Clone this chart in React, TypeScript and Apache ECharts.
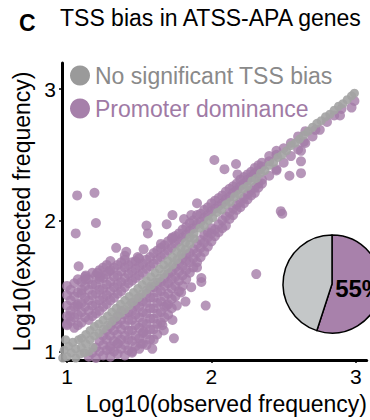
import React, { useEffect, useRef } from "react";
import * as echarts from "echarts";

const titleLetter = "C";
const titleText = "TSS bias in ATSS-APA genes";
const xAxisTitle = "Log10(observed frequency)";
const yAxisTitle = "Log10(expected frequency)";
const tickValues = [1, 2, 3];
const seriesNames = ["No significant TSS bias", "Promoter dominance"];
const pieShares = [55, 45]; // promoter dominance, no significant bias

// Grey points (no significant TSS bias), hugging the diagonal
const noBiasPoints: [number, number][] = [
  [0.97, 0.95], [0.98, 1.01], [1.0, 0.96], [1.01, 1.04], [1.03, 0.99], [1.04, 1.07],
  [1.06, 0.95], [1.06, 1.02], [1.08, 1.09], [1.09, 0.98], [0.99, 1.09], [1.12, 0.99],
  [1.15, 1.0], [1.18, 1.03],
  [1.1, 1.03], [1.1, 1.1], [1.13, 1.06], [1.13, 1.13], [1.16, 1.09], [1.16, 1.16],
  [1.19, 1.12], [1.19, 1.19], [1.22, 1.14], [1.22, 1.21], [1.25, 1.17], [1.25, 1.24],
  [1.28, 1.2], [1.28, 1.27], [1.31, 1.23], [1.31, 1.3], [1.34, 1.26], [1.34, 1.33],
  [1.37, 1.29], [1.37, 1.36], [1.4, 1.32], [1.4, 1.39], [1.43, 1.35], [1.43, 1.42],
  [1.46, 1.38], [1.46, 1.45], [1.49, 1.41], [1.49, 1.48], [1.52, 1.44], [1.52, 1.51],
  [1.55, 1.47], [1.55, 1.54], [1.58, 1.5], [1.58, 1.57], [1.61, 1.53], [1.61, 1.6],
  [1.64, 1.56], [1.64, 1.63], [1.67, 1.59], [1.67, 1.66], [1.7, 1.63], [1.7, 1.69],
  [1.73, 1.66], [1.73, 1.72], [1.76, 1.7], [1.76, 1.76], [1.79, 1.74], [1.79, 1.79],
  [1.82, 1.78], [1.82, 1.83], [1.85, 1.82], [1.85, 1.87], [1.88, 1.86], [1.88, 1.9],
  [1.92, 1.94], [1.95, 1.96],
  [1.98, 2.0], [2.01, 2.02], [2.04, 2.06], [2.07, 2.08], [2.1, 2.12], [2.13, 2.14],
  [2.16, 2.18], [2.19, 2.2], [2.22, 2.24], [2.25, 2.26], [2.28, 2.3], [2.31, 2.32],
  [2.34, 2.36], [2.37, 2.38], [2.4, 2.42], [2.43, 2.44], [2.46, 2.48], [2.49, 2.5],
  [2.52, 2.53], [2.55, 2.57], [2.58, 2.59], [2.61, 2.62], [2.64, 2.65], [2.67, 2.68],
  [2.7, 2.71], [2.73, 2.74], [2.76, 2.76], [2.79, 2.79], [2.82, 2.81], [2.85, 2.84],
  [2.88, 2.87], [2.91, 2.89], [2.94, 2.92], [2.97, 2.95], [2.99, 2.97],
];

// Purple points (promoter dominance): scattered outliers
const promoterOutliers: [number, number][] = [
  [1.07, 2.19], [1.19, 2.21], [1.2, 1.98], [1.06, 1.9], [1.08, 1.65], [1.55, 1.96],
  [1.56, 1.9], [1.69, 1.97], [1.73, 2.04], [1.34, 1.79], [1.41, 1.76], [1.4, 1.73],
  [1.53, 1.78], [1.49, 1.72], [1.65, 1.82], [1.73, 1.87], [1.9, 2.13], [1.81, 2.01],
  [1.86, 2.04], [2.02, 2.46], [2.09, 2.39], [2.17, 2.43], [2.18, 2.35], [2.3, 2.35],
  [2.45, 2.38], [2.54, 2.34], [2.62, 2.36], [2.62, 2.45], [2.48, 2.07], [2.49, 2.05],
  [2.31, 1.59], [1.96, 1.35], [1.82, 1.38], [1.76, 1.35], [1.73, 1.24], [1.67, 1.16],
  [1.74, 1.1], [1.59, 1.02], [1.45, 0.99], [1.66, 1.2], [1.53, 1.15], [1.51, 1.06],
  [1.35, 1.06], [1.3, 1.02], [1.02, 1.27], [1.0, 1.21], [1.07, 1.35], [1.1, 1.47],
  [1.23, 1.57], [1.93, 1.56], [1.86, 1.49], [1.9, 1.64], [1.79, 1.45], [1.69, 1.35],
  [1.93, 1.53], [2.89, 2.8], [2.97, 2.86], [2.99, 2.91], [2.72, 2.69], [2.64, 2.6],
  [2.62, 2.53], [1.13, 1.58], [1.21, 1.6], [1.29, 1.61], [1.13, 1.55],
];

// Purple points (promoter dominance): dense band around the diagonal
const promoterCluster: [number, number][] = [
  [1.0, 1.2], [1.0, 1.27], [1.0, 1.35], [1.0, 1.43], [1.0, 1.5],
  [1.025, 1.23], [1.025, 1.31], [1.025, 1.39], [1.025, 1.47],
  [1.05, 1.18], [1.05, 1.26], [1.05, 1.34], [1.05, 1.42], [1.05, 1.52],
  [1.075, 1.2], [1.075, 1.28], [1.075, 1.36], [1.075, 1.45], [1.075, 1.55],
  [1.1, 1.22], [1.1, 1.3], [1.1, 1.37], [1.1, 1.44], [1.1, 1.53],
  [1.125, 1.26], [1.125, 1.34], [1.125, 1.41], [1.125, 1.5], [1.125, 1.57],
  [1.15, 0.96], [1.15, 1.24], [1.15, 1.31], [1.15, 1.39], [1.15, 1.47], [1.15, 1.55],
  [1.175, 0.99], [1.175, 1.27], [1.175, 1.35], [1.175, 1.43], [1.175, 1.51], [1.175, 1.6],
  [1.2, 0.95], [1.2, 1.03], [1.2, 1.29], [1.2, 1.36], [1.2, 1.44], [1.2, 1.51], [1.2, 1.58],
  [1.225, 1.0], [1.225, 1.08], [1.225, 1.31], [1.225, 1.39], [1.225, 1.47], [1.225, 1.55], [1.225, 1.62],
  [1.25, 0.97], [1.25, 1.05], [1.25, 1.12], [1.25, 1.34], [1.25, 1.41], [1.25, 1.48], [1.25, 1.56], [1.25, 1.64],
  [1.275, 1.01], [1.275, 1.09], [1.275, 1.16], [1.275, 1.36], [1.275, 1.43], [1.275, 1.51], [1.275, 1.59], [1.275, 1.66],
  [1.3, 0.96], [1.3, 1.04], [1.3, 1.12], [1.3, 1.19], [1.3, 1.39], [1.3, 1.46], [1.3, 1.53], [1.3, 1.62], [1.3, 1.69],
  [1.325, 1.0], [1.325, 1.08], [1.325, 1.16], [1.325, 1.23], [1.325, 1.41], [1.325, 1.49], [1.325, 1.57], [1.325, 1.64],
  [1.35, 0.98], [1.35, 1.06], [1.35, 1.13], [1.35, 1.21], [1.35, 1.27], [1.35, 1.44], [1.35, 1.51], [1.35, 1.58], [1.35, 1.66],
  [1.375, 1.02], [1.375, 1.09], [1.375, 1.17], [1.375, 1.24], [1.375, 1.31], [1.375, 1.46], [1.375, 1.53], [1.375, 1.61], [1.375, 1.68],
  [1.4, 0.97], [1.4, 1.05], [1.4, 1.12], [1.4, 1.2], [1.4, 1.28], [1.4, 1.49], [1.4, 1.56], [1.4, 1.64], [1.4, 1.7],
  [1.425, 1.01], [1.425, 1.09], [1.425, 1.16], [1.425, 1.24], [1.425, 1.3], [1.425, 1.52], [1.425, 1.59], [1.425, 1.66],
  [1.45, 1.0], [1.45, 1.08], [1.45, 1.16], [1.45, 1.24], [1.45, 1.31], [1.45, 1.37], [1.45, 1.54], [1.45, 1.61], [1.45, 1.68],
  [1.475, 1.04], [1.475, 1.12], [1.475, 1.2], [1.475, 1.28], [1.475, 1.35], [1.475, 1.56], [1.475, 1.63], [1.475, 1.69],
  [1.5, 1.02], [1.5, 1.1], [1.5, 1.18], [1.5, 1.26], [1.5, 1.34], [1.5, 1.41], [1.5, 1.58], [1.5, 1.65], [1.5, 1.71],
  [1.525, 1.06], [1.525, 1.14], [1.525, 1.22], [1.525, 1.3], [1.525, 1.38], [1.525, 1.6], [1.525, 1.67],
  [1.55, 1.05], [1.55, 1.13], [1.55, 1.21], [1.55, 1.29], [1.55, 1.37], [1.55, 1.44], [1.55, 1.63], [1.55, 1.7],
  [1.575, 1.09], [1.575, 1.17], [1.575, 1.25], [1.575, 1.33], [1.575, 1.41], [1.575, 1.48], [1.575, 1.65], [1.575, 1.72],
  [1.6, 1.09], [1.6, 1.17], [1.6, 1.25], [1.6, 1.33], [1.6, 1.41], [1.6, 1.49], [1.6, 1.67], [1.6, 1.75],
  [1.625, 1.13], [1.625, 1.21], [1.625, 1.29], [1.625, 1.37], [1.625, 1.45], [1.625, 1.52], [1.625, 1.7], [1.625, 1.77],
  [1.65, 1.22], [1.65, 1.3], [1.65, 1.38], [1.65, 1.46], [1.65, 1.53], [1.65, 1.72], [1.65, 1.79],
  [1.675, 1.26], [1.675, 1.34], [1.675, 1.42], [1.675, 1.5], [1.675, 1.56], [1.675, 1.74], [1.675, 1.81],
  [1.7, 1.28], [1.7, 1.36], [1.7, 1.44], [1.7, 1.52], [1.7, 1.59], [1.7, 1.77], [1.7, 1.84],
  [1.725, 1.33], [1.725, 1.4], [1.725, 1.48], [1.725, 1.55], [1.725, 1.61], [1.725, 1.79], [1.725, 1.86],
  [1.75, 1.42], [1.75, 1.5], [1.75, 1.57], [1.75, 1.64], [1.75, 1.82], [1.75, 1.88],
  [1.775, 1.46], [1.775, 1.54], [1.775, 1.61], [1.775, 1.67], [1.775, 1.84], [1.775, 1.9],
  [1.8, 1.5], [1.8, 1.58], [1.8, 1.65], [1.8, 1.71], [1.8, 1.87], [1.8, 1.93],
  [1.825, 1.55], [1.825, 1.62], [1.825, 1.69], [1.825, 1.74], [1.825, 1.89], [1.825, 1.95],
  [1.85, 1.6], [1.85, 1.68], [1.85, 1.75], [1.85, 1.92], [1.85, 1.98],
  [1.875, 1.64], [1.875, 1.71], [1.875, 1.78], [1.875, 1.94], [1.875, 2.0],
  [1.9, 1.68], [1.9, 1.75], [1.9, 1.82], [1.9, 1.97], [1.9, 2.04],
  [1.925, 1.72], [1.925, 1.79], [1.925, 1.85], [1.925, 1.99], [1.925, 2.05],
  [1.95, 1.76], [1.95, 1.83], [1.95, 1.89], [1.95, 2.02], [1.95, 2.08],
  [1.975, 1.8], [1.975, 1.87], [1.975, 1.91], [1.975, 2.04], [1.975, 2.1],
  [2.0, 1.84], [2.0, 1.9], [2.0, 1.94], [2.0, 2.07], [2.0, 2.13],
  [2.025, 1.88], [2.025, 1.93], [2.025, 2.09], [2.025, 2.15],
  [2.05, 1.91], [2.05, 1.97], [2.05, 2.11], [2.05, 2.17],
  [2.075, 1.94], [2.075, 2.0], [2.075, 2.13], [2.075, 2.19],
  [2.1, 1.96], [2.1, 2.03], [2.1, 2.16], [2.1, 2.22],
  [2.125, 2.01], [2.125, 2.06], [2.125, 2.18], [2.125, 2.24],
  [2.15, 2.04], [2.15, 2.09], [2.15, 2.21], [2.15, 2.26],
  [2.175, 2.08], [2.175, 2.12], [2.175, 2.23], [2.175, 2.28],
  [2.2, 2.1], [2.2, 2.14], [2.2, 2.26], [2.2, 2.31],
  [2.225, 2.13], [2.225, 2.17], [2.225, 2.28], [2.225, 2.33],
  [2.25, 2.16], [2.25, 2.2], [2.25, 2.31], [2.25, 2.35],
  [2.275, 2.19], [2.275, 2.23], [2.275, 2.33], [2.275, 2.37],
  [2.3, 2.21], [2.3, 2.25], [2.3, 2.36], [2.3, 2.4],
  [2.325, 2.25], [2.325, 2.28], [2.325, 2.38], [2.325, 2.42],
  [2.35, 2.28], [2.35, 2.31], [2.35, 2.41], [2.35, 2.44],
  [2.4, 2.34], [2.4, 2.45], [2.4, 2.49],
  [2.45, 2.39], [2.45, 2.5], [2.45, 2.53],
  [2.5, 2.44], [2.5, 2.55],
  [2.55, 2.49], [2.55, 2.59],
  [2.6, 2.54], [2.6, 2.64],
  [2.65, 2.59], [2.65, 2.68],
  [2.7, 2.64], [2.75, 2.69], [2.8, 2.75], [2.85, 2.8], [2.9, 2.85],
];

const GREY = "#a3a3a3";
const PURPLE = "#a47ca8";
const FONT = "'Liberation Sans', Arial, Helvetica, sans-serif";

export default function App() {
  const ref = useRef<HTMLDivElement>(null);

  useEffect(() => {
    if (!ref.current) return;
    const chart = echarts.init(ref.current, null, { renderer: "svg" });
    const option: any = {
      animation: false,
      backgroundColor: "#ffffff",
      textStyle: { fontFamily: FONT },
      title: [
        {
          text: titleLetter,
          left: 19,
          top: 11,
          padding: 0,
          textStyle: { fontSize: 23, fontWeight: "bold", color: "#000", fontFamily: FONT },
        },
        {
          text: titleText,
          left: 60,
          top: 6,
          padding: 0,
          textStyle: { fontSize: 23, fontWeight: "normal", color: "#000", fontFamily: FONT },
        },
      ],
      legend: {
        orient: "vertical",
        left: 70,
        top: 64,
        padding: 0,
        itemGap: 10,
        itemWidth: 20,
        itemHeight: 20,
        icon: "circle",
        textStyle: { fontSize: 23, fontFamily: FONT },
        data: [
          { name: seriesNames[0], itemStyle: { color: "#9a9a9a", opacity: 1 }, textStyle: { color: "#8a8a8a" } },
          { name: seriesNames[1], itemStyle: { color: "#a680aa", opacity: 1 }, textStyle: { color: "#a07aa5" } },
        ],
      },
      grid: { left: 62, right: 0, top: 63, bottom: 51, containLabel: false },
      xAxis: {
        type: "value",
        min: 0.965,
        max: 3.075,
        name: xAxisTitle,
        nameLocation: "middle",
        nameGap: 28,
        nameTextStyle: { fontSize: 23, color: "#000", fontFamily: FONT, align: "center", padding: [0, 0, 0, 24] },
        splitLine: { show: false },
        axisLine: { show: true, lineStyle: { color: "#000", width: 3 } },
        axisTick: { show: true, length: 3, lineStyle: { color: "#000", width: 1.5 }, customValues: tickValues },
        axisLabel: { fontSize: 21, color: "#000", margin: 6, customValues: tickValues, fontFamily: FONT },
      },
      yAxis: {
        type: "value",
        min: 0.934,
        max: 3.2,
        name: yAxisTitle,
        nameLocation: "middle",
        nameGap: 28,
        nameRotate: 90,
        nameTextStyle: { fontSize: 23, color: "#000", fontFamily: FONT },
        splitLine: { show: false },
        axisLine: { show: true, lineStyle: { color: "#000", width: 3 } },
        axisTick: { show: true, length: 3, lineStyle: { color: "#000", width: 1.5 }, customValues: tickValues },
        axisLabel: { fontSize: 21, color: "#000", margin: 6, customValues: tickValues, fontFamily: FONT },
      },
      series: [
        {
          name: seriesNames[1],
          type: "scatter",
          z: 2,
          symbolSize: 10,
          itemStyle: { color: PURPLE, opacity: 0.8 },
          data: [...promoterCluster, ...promoterOutliers],
        },
        {
          name: seriesNames[0],
          type: "scatter",
          z: 3,
          symbolSize: 9,
          itemStyle: { color: GREY, opacity: 0.9 },
          data: noBiasPoints,
        },
        {
          type: "pie",
          z: 5,
          center: [332, 284],
          radius: 49,
          startAngle: 90,
          clockwise: true,
          silent: true,
          legendHoverLink: false,
          itemStyle: { borderColor: "#000", borderWidth: 1.5 },
          labelLine: { show: false },
          data: [
            {
              name: "promoter",
              value: pieShares[0],
              itemStyle: { color: "#a881ab" },
              label: {
                show: true,
                position: "inside",
                formatter: "{d}%",
                fontSize: 24,
                fontWeight: "bold",
                color: "#000",
                fontFamily: FONT,
              },
            },
            {
              name: "nobias",
              value: pieShares[1],
              itemStyle: { color: "#c4c7c8" },
              label: { show: false },
            },
          ],
        },
      ],
    };
    chart.setOption(option);
    return () => chart.dispose();
  }, []);

  return (
    <div
      ref={ref}
      style={{ position: "fixed", left: 0, top: 0, width: 370, height: 420, overflow: "hidden" }}
    />
  );
}
